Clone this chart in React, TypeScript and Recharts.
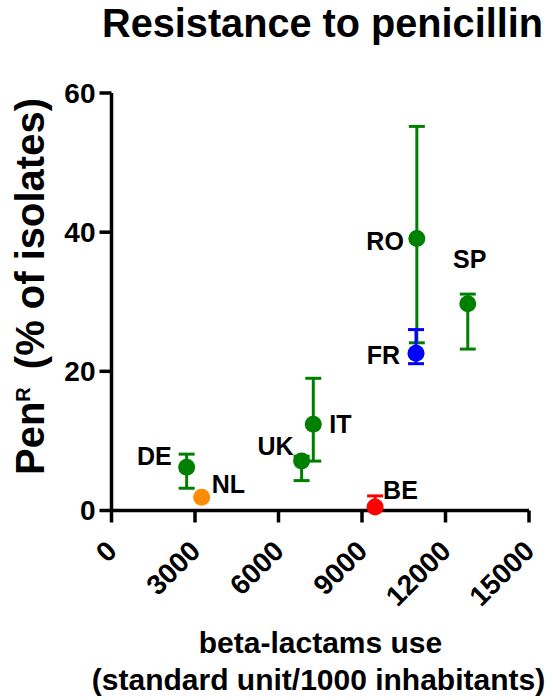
import { ErrorBar, Scatter, ScatterChart, XAxis, YAxis } from "recharts"

// values (x = beta-lactam use, y = % resistant isolates)
const COUNTRIES = ["DE", "NL", "UK", "IT", "BE", "RO", "FR", "SP"]
const BETA_LACTAM_USE = [2700, 3240, 6830, 7250, 9470, 10970, 10940, 12800]
const PEN_R = [6.2, 1.9, 7.1, 12.4, 0.5, 39.1, 22.6, 29.7]
const PEN_R_LOW = [3.2, 1.9, 4.3, 7.1, 0.0, 24.1, 21.1, 23.2]
const PEN_R_HIGH = [8.1, 1.9, 7.8, 19.0, 2.1, 55.2, 26.0, 31.1]

const X_TICKS = [0, 3000, 6000, 9000, 12000, 15000]
const Y_TICKS = [0, 20, 40, 60]

const GREEN = "#008000"
const COUNTRY_COLOR: Record<string, string> = {
  DE: GREEN,
  UK: GREEN,
  IT: GREEN,
  RO: GREEN,
  SP: GREEN,
  NL: "#ff8c00",
  BE: "#ff0000",
  FR: "#0000ff",
}

// label placement relative to the marker centre
const LABEL_POS: Record<string, { dx: number; dy: number; anchor: "start" | "middle" | "end" }> = {
  DE: { dx: -15, dy: -2, anchor: "end" },
  NL: { dx: 10, dy: -4, anchor: "start" },
  UK: { dx: -8, dy: -6, anchor: "end" },
  IT: { dx: 16, dy: 9, anchor: "start" },
  BE: { dx: 8, dy: -8, anchor: "start" },
  RO: { dx: -13, dy: 12, anchor: "end" },
  FR: { dx: -16, dy: 11, anchor: "end" },
  SP: { dx: 2, dy: -36, anchor: "middle" },
}

const FONT = "'Liberation Sans', Arial, Helvetica, sans-serif"

const rows = COUNTRIES.map((country, i) => ({
  country,
  use: BETA_LACTAM_USE[i],
  penR: PEN_R[i],
  err: [PEN_R[i] - PEN_R_LOW[i], PEN_R_HIGH[i] - PEN_R[i]],
}))

const GROUPS = [GREEN, "#ff8c00", "#ff0000", "#0000ff"].map((color) => ({
  color,
  data: rows.filter((r) => COUNTRY_COLOR[r.country] === color),
}))

function Marker(props: any) {
  const { cx, cy, payload } = props
  const color = COUNTRY_COLOR[payload.country]
  const pos = LABEL_POS[payload.country]
  return (
    <g>
      <circle cx={cx} cy={cy} r={8.5} fill={color} />
      <text
        x={cx + pos.dx}
        y={cy + pos.dy}
        textAnchor={pos.anchor}
        fontFamily={FONT}
        fontWeight="bold"
        fontSize={25}
        fill="#000"
      >
        {payload.country}
      </text>
    </g>
  )
}

function XTick({ x, y, payload }: any) {
  const ty = y + 21
  return (
    <text
      x={x}
      y={ty}
      transform={`rotate(-45 ${x} ${ty})`}
      textAnchor="end"
      dy="0.36em"
      fontFamily={FONT}
      fontWeight="bold"
      fontSize={28}
      fill="#000"
    >
      {payload.value}
    </text>
  )
}

export default function App() {
  return (
    <div style={{ width: 553, height: 700, background: "#fff" }}>
      <style>{`body{margin:0}`}</style>
      <ScatterChart width={553} height={700} margin={{ top: 93, right: 24, bottom: 0, left: 11.5 }}>
        <XAxis
          type="number"
          dataKey="use"
          domain={[0, 15000]}
          ticks={X_TICKS}
          interval={0}
          height={189.5}
          stroke="#000"
          strokeWidth={3.5}
          tickSize={12}
          tickLine={{ stroke: "#000", strokeWidth: 3.5 }}
          tick={<XTick />}
          label={{
            content: () => (
              <g fontFamily={FONT} fontWeight="bold" fontSize={30} fill="#000">
                <text x={320.5} y={653} textAnchor="middle">
                  beta-lactams use
                </text>
                <text x={318.5} y={690} textAnchor="middle">
                  (standard unit/1000 inhabitants)
                </text>
              </g>
            ),
          }}
        />
        <YAxis
          type="number"
          dataKey="penR"
          domain={[0, 60]}
          ticks={Y_TICKS}
          interval={0}
          width={100}
          stroke="#000"
          strokeWidth={3.5}
          tickSize={12}
          tickMargin={4}
          tickLine={{ stroke: "#000", strokeWidth: 3.5 }}
          tick={{ fill: "#000", fontSize: 28, fontWeight: "bold", fontFamily: FONT }}
          label={{
            content: () => (
              <g fontFamily={FONT} fontWeight="bold" fill="#000">
                <text x={322.5} y={37} textAnchor="middle" fontSize={40} textLength={441} lengthAdjust="spacingAndGlyphs">
                  Resistance to penicillin
                </text>
                <text transform="rotate(-90)" x={-475} y={44} fontSize={40}>
                  <tspan>Pen</tspan>
                  <tspan fontSize={20} dy={-14}>
                    R
                  </tspan>
                  <tspan dx={18} dy={14}>
                    (% of isolates)
                  </tspan>
                </text>
              </g>
            ),
          }}
        />
        {GROUPS.map((g) => (
          <Scatter key={g.color} data={g.data} fill={g.color} shape={<Marker />} isAnimationActive={false}>
            <ErrorBar dataKey="err" direction="y" width={8} strokeWidth={3} stroke={g.color} />
          </Scatter>
        ))}
      </ScatterChart>
    </div>
  )
}
